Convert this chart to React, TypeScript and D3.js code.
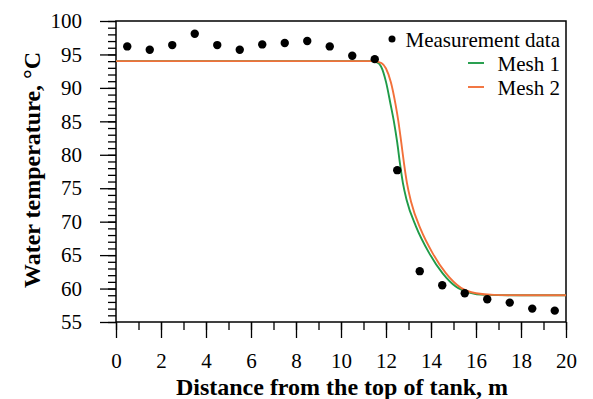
import React, { useEffect, useRef } from 'react';
import * as d3 from 'd3';

// measurement points (distance m, temperature °C)
const measX = [0.5, 1.5, 2.5, 3.5, 4.5, 5.5, 6.5, 7.5, 8.5, 9.5, 10.5, 11.5, 12.5, 13.5, 14.5, 15.5, 16.5, 17.5, 18.5, 19.5];
const measT = [96.2, 95.7, 96.4, 98.1, 96.4, 95.7, 96.5, 96.7, 97.0, 96.2, 94.8, 94.3, 77.7, 62.6, 60.5, 59.3, 58.4, 57.9, 57.0, 56.7];

// simulated profiles
const mesh1X = [0, 11.3, 11.6, 11.78, 12.0, 12.2, 12.35, 12.5, 12.62, 12.75, 12.92, 13.33, 13.92, 14.51, 15.1, 15.7, 16.4, 17.5, 20];
const mesh1T = [94.0, 94.0, 93.8, 93.2, 90.9, 87.6, 85.0, 81.8, 78.7, 75.8, 73.2, 69.3, 65.3, 62.3, 60.3, 59.4, 59.05, 59.0, 59.0];
const mesh2X = [0, 11.45, 11.8, 12.0, 12.22, 12.42, 12.55, 12.68, 12.8, 12.93, 13.12, 13.55, 14.07, 14.66, 15.33, 16.0, 16.8, 18, 20];
const mesh2T = [94.0, 94.0, 93.7, 92.9, 90.8, 87.6, 85.0, 81.8, 78.7, 75.8, 72.9, 68.8, 65.3, 62.3, 60.1, 59.3, 59.05, 59.0, 59.0];

const xTicks = [0, 2, 4, 6, 8, 10, 12, 14, 16, 18, 20];
const yTicks = [55, 60, 65, 70, 75, 80, 85, 90, 95, 100];

const FONT = '"Liberation Serif", "Times New Roman", serif';

const App = () => {
  const svgRef = useRef(null);

  useEffect(() => {
    const left = 116, right = 566, top = 21, bottom = 322;

    const x = d3.scaleLinear().domain([0, 20]).range([left, right]);
    const y = d3.scaleLinear().domain([55, 100]).range([bottom, top]);

    const svg = d3.select(svgRef.current);
    svg.selectAll('*').remove();

    // minor ticks
    svg.append('g')
      .attr('transform', `translate(${left},0)`)
      .call(d3.axisLeft(y).tickValues(d3.range(55, 101, 1)).tickSize(8).tickFormat(() => ''))
      .call(g => g.select('.domain').remove());
    svg.append('g')
      .attr('transform', `translate(0,${bottom})`)
      .call(d3.axisBottom(x).tickValues(d3.range(0, 21, 1)).tickSize(8).tickFormat(() => ''))
      .call(g => g.select('.domain').remove());

    // major ticks + labels
    svg.append('g')
      .attr('transform', `translate(${left},0)`)
      .call(d3.axisLeft(y).tickValues(yTicks).tickSize(16).tickPadding(18))
      .call(g => g.select('.domain').remove())
      .call(g => g.selectAll('text').style('font-family', FONT).style('font-size', '21px').attr('fill', '#000'));
    svg.append('g')
      .attr('transform', `translate(0,${bottom})`)
      .call(d3.axisBottom(x).tickValues(xTicks).tickSize(16).tickPadding(15))
      .call(g => g.select('.domain').remove())
      .call(g => g.selectAll('text').style('font-family', FONT).style('font-size', '21px').attr('fill', '#000'));

    svg.selectAll('.tick line').attr('stroke', '#000').attr('stroke-width', 1.3);

    // frame
    svg.append('rect')
      .attr('x', left).attr('y', top)
      .attr('width', right - left).attr('height', bottom - top)
      .attr('fill', 'none').attr('stroke', '#000').attr('stroke-width', 1.5);

    const line = d3.line()
      .x(d => x(d[0]))
      .y(d => y(d[1]))
      .curve(d3.curveMonotoneX);

    svg.append('path')
      .datum(mesh1X.map((v, i) => [v, mesh1T[i]]))
      .attr('fill', 'none').attr('stroke', '#1f9b48').attr('stroke-width', 1.9)
      .attr('d', line);
    svg.append('path')
      .datum(mesh2X.map((v, i) => [v, mesh2T[i]]))
      .attr('fill', 'none').attr('stroke', '#f2703a').attr('stroke-width', 1.9)
      .attr('d', line);

    svg.selectAll('.dot')
      .data(measX.map((v, i) => [v, measT[i]]))
      .enter()
      .append('circle')
      .attr('class', 'dot')
      .attr('cx', d => x(d[0]))
      .attr('cy', d => y(d[1]))
      .attr('r', 4.2)
      .attr('fill', '#000');

    // legend
    const legend = svg.append('g').style('font-family', FONT).style('font-size', '21px');
    legend.append('circle').attr('cx', 392).attr('cy', 39).attr('r', 3.5).attr('fill', '#000');
    legend.append('text').attr('x', 560).attr('y', 47).attr('text-anchor', 'end').text('Measurement data');
    legend.append('line').attr('x1', 468).attr('x2', 484).attr('y1', 63).attr('y2', 63)
      .attr('stroke', '#1f9b48').attr('stroke-width', 1.9);
    legend.append('text').attr('x', 560).attr('y', 71).attr('text-anchor', 'end').text('Mesh 1');
    legend.append('line').attr('x1', 468).attr('x2', 484).attr('y1', 87).attr('y2', 87)
      .attr('stroke', '#f2703a').attr('stroke-width', 1.9);
    legend.append('text').attr('x', 560).attr('y', 95).attr('text-anchor', 'end').text('Mesh 2');

    // axis titles
    svg.append('text')
      .attr('x', 342).attr('y', 395)
      .attr('text-anchor', 'middle')
      .style('font-family', FONT).style('font-size', '24px').style('font-weight', 'bold')
      .text('Distance from the top of tank, m');
    svg.append('text')
      .attr('transform', 'translate(40,170) rotate(-90)')
      .attr('text-anchor', 'middle')
      .style('font-family', FONT).style('font-size', '24px').style('font-weight', 'bold')
      .text('Water temperature, °C');
  }, []);

  return (
    <svg ref={svgRef} width={593} height={399}
      style={{ position: 'absolute', left: 0, top: 0, background: '#fff' }} />
  );
};

export default App;
